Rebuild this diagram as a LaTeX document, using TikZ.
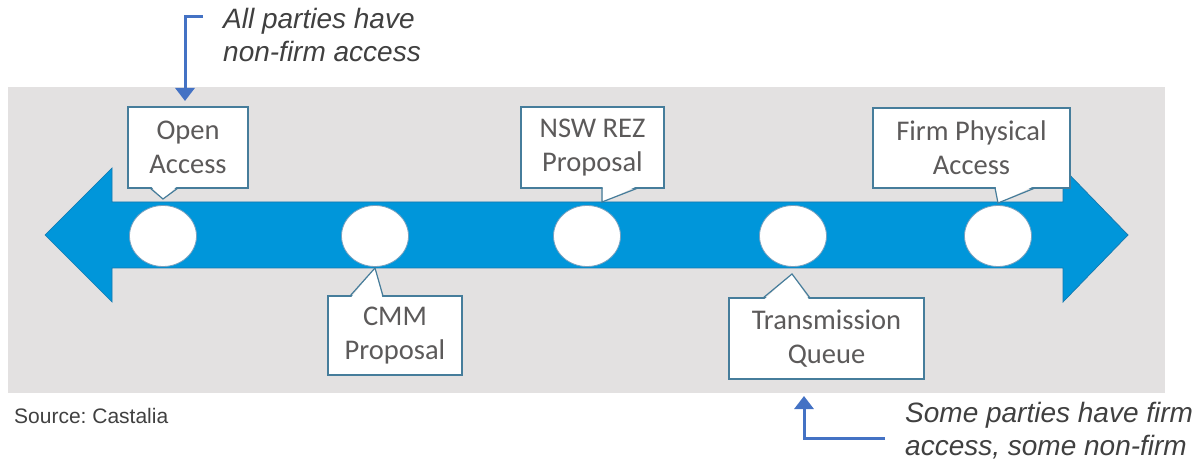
\documentclass[tikz,border=0pt]{standalone}
\usepackage{fontspec}
\setmainfont{Carlito}
\newfontfamily\arialfont{Liberation Sans}
\usetikzlibrary{shapes.geometric,arrows.meta}
\frenchspacing

\definecolor{panelgray}{RGB}{227,225,225}
\definecolor{bandblue}{RGB}{0,150,218}
\definecolor{bandedge}{RGB}{20,120,175}
\definecolor{boxedge}{RGB}{70,125,155}
\definecolor{stopedge}{RGB}{120,160,190}
\definecolor{labelgray}{RGB}{92,90,90}
\definecolor{notegray}{RGB}{64,64,64}
\definecolor{leadblue}{RGB}{68,114,196}

\begin{document}
\begin{tikzpicture}[x=1pt,y=-1pt,
  callout/.style={draw=boxedge, line width=1.2pt, fill=white, align=center,
    font=\fontsize{28.5}{34}\selectfont, text=labelgray, inner sep=0pt},
  stop/.style={ellipse, draw=stopedge, line width=0.8pt, fill=white,
    minimum width=67pt, minimum height=61pt, inner sep=0pt},
  note/.style={font=\arialfont\itshape\fontsize{28}{33}\selectfont, text=notegray,
    align=left, anchor=north west, inner sep=0pt},
  lead/.style={draw=leadblue, line width=3pt,
    -{Triangle[length=13pt,width=19pt]}},
  notch/.style={draw=boxedge, line width=1.2pt, line join=miter},
]
\useasboundingbox (0,0) rectangle (1194,470);

% grey panel
\fill[panelgray] (8,87) rectangle (1165,393);

% double-headed timeline band
\filldraw[fill=bandblue, draw=bandedge, line width=0.7pt]
  (45,235) -- (112,168) -- (112,202) -- (1063,202) -- (1063,168)
  -- (1128,235) -- (1063,302) -- (1063,268) -- (112,268) -- (112,302) -- cycle;

% milestones on the band
\node[stop] (s1) at (163,236) {};
\node[stop] (s2) at (375,236) {};
\node[stop] (s3) at (587,236) {};
\node[stop] (s4) at (793,236) {};
\node[stop] (s5) at (998,236) {};

% callout boxes
\node[callout, minimum width=120pt, minimum height=81pt] (c1) at (188,147.5) {Open\\Access};
\node[callout, minimum width=134pt, minimum height=79pt] (c2) at (395,335.5) {CMM\\Proposal};
\node[callout, minimum width=143pt, minimum height=81pt] (c3) at (592.5,147.5) {NSW REZ\\Proposal};
\node[callout, minimum width=195pt, minimum height=81pt] (c4) at (826.5,338.5) {Transmission\\Queue};
\node[callout, minimum width=197pt, minimum height=80pt] (c5) at (971.5,148) {Firm Physical\\Access};

% callout pointers towards the milestones
\fill[white] (150.6,186) -- (163,199) -- (177.4,186) -- cycle;
\draw[notch] (150,188) -- (163,199) -- (178,188);

\fill[white] (350.6,298) -- (375,268) -- (382.4,298) -- cycle;
\draw[notch] (350,296) -- (375,268) -- (383,296);

\fill[white] (602.6,186) -- (602.6,202) -- (637.4,186) -- cycle;
\draw[notch] (602,188) -- (602,202) -- (638,188);

\fill[white] (763.6,300) -- (792,274) -- (809.4,300) -- cycle;
\draw[notch] (763,298) -- (792,274) -- (810,298);

\fill[white] (995.6,186) -- (998,203) -- (1034.4,186) -- cycle;
\draw[notch] (995,188) -- (998,203) -- (1035,188);

% annotations
\node[note] (nA) at (223,8) {All parties have\\non-firm access};
\node[note] (nB) at (905,402) {Some parties have firm\\access, some non-firm};
\node[anchor=base west, inner sep=0pt, font=\arialfont\fontsize{21}{24}\selectfont,
  text=notegray] (src) at (14,423) {Source: Castalia};

\coordinate (leadA) at (203,17);
\coordinate (tipA) at (185,101);
\draw[lead] (leadA) -- (leadA -| tipA) -- (tipA);

\coordinate (leadB) at (885,438);
\coordinate (tipB) at (804,396);
\draw[lead] (leadB) -- (leadB -| tipB) -- (tipB);
\end{tikzpicture}
\end{document}
